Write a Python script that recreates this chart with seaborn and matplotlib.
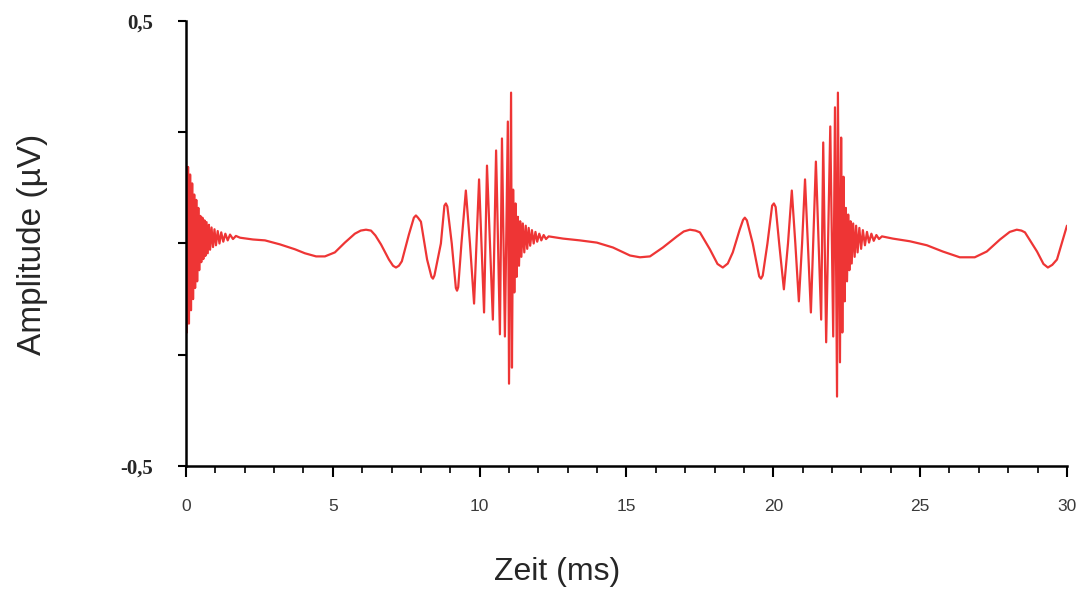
import numpy as np
import pandas as pd
import seaborn as sns
import matplotlib.pyplot as plt
from matplotlib.ticker import MultipleLocator

# readings: time in ms, amplitude in µV
onset_t = [0.00, 0.03, 0.07, 0.10, 0.14, 0.17, 0.21, 0.24, 0.28, 0.31, 0.35, 0.38, 0.42, 0.45,
           0.49, 0.52, 0.56, 0.59, 0.63, 0.66, 0.70, 0.74, 0.78, 0.82, 0.87, 0.92, 0.97, 1.02,
           1.08, 1.14, 1.20, 1.27, 1.34, 1.42, 1.50, 1.60, 1.70]
onset_uv = [0.184, -0.200, 0.172, -0.180, 0.155, -0.150, 0.135, -0.125, 0.110, -0.100, 0.098,
            -0.085, 0.080, -0.060, 0.062, -0.042, 0.058, -0.035, 0.052, -0.028, 0.048, -0.022,
            0.042, -0.014, 0.036, -0.008, 0.032, -0.004, 0.028, 0.000, 0.025, 0.004, 0.022,
            0.007, 0.020, 0.010, 0.017]

wave1_t = [1.84, 2.28, 2.69, 3.20, 3.71, 4.05, 4.43, 4.73, 5.07, 5.41, 5.75, 5.95, 6.13, 6.30,
           6.45, 6.64, 6.91, 7.05, 7.15, 7.25, 7.35, 7.59]
wave1_uv = [0.013, 0.009, 0.007, -0.002, -0.013, -0.022, -0.029, -0.029, -0.020, 0.002, 0.022,
            0.029, 0.031, 0.029, 0.018, -0.002, -0.036, -0.050, -0.054, -0.050, -0.040, 0.020]

burst1_t = [7.76, 7.83, 7.90, 8.00, 8.21, 8.36, 8.41, 8.46, 8.68, 8.80, 8.85, 8.90, 9.05, 9.19,
            9.23, 9.27, 9.38, 9.53, 9.67, 9.81, 9.98, 10.15, 10.25, 10.45, 10.56, 10.69, 10.76,
            10.86, 10.96, 11.00, 11.07, 11.10]
burst1_uv = [0.058, 0.063, 0.058, 0.049, -0.036, -0.075, -0.079, -0.072, 0.000, 0.085, 0.090,
             0.083, 0.000, -0.100, -0.106, -0.098, 0.000, 0.119, 0.000, -0.135, 0.144, -0.155,
             0.175, -0.171, 0.209, -0.204, 0.236, -0.209, 0.274, -0.315, 0.339, -0.279]

ring1_t = [11.14, 11.18, 11.22, 11.26, 11.30, 11.34, 11.38, 11.42, 11.47, 11.52, 11.57, 11.62,
           11.67, 11.72, 11.78, 11.84, 11.90, 11.96, 12.03, 12.10, 12.18, 12.26, 12.35]
ring1_uv = [0.121, -0.110, 0.090, -0.075, 0.060, -0.050, 0.050, -0.030, 0.045, -0.020, 0.040,
            -0.012, 0.035, -0.005, 0.030, 0.000, 0.026, 0.004, 0.022, 0.007, 0.019, 0.010, 0.016]

wave2_t = [12.84, 13.41, 13.99, 14.54, 15.12, 15.46, 15.80, 16.24, 16.72, 16.95, 17.16, 17.35,
           17.50, 17.84, 18.10, 18.28, 18.45, 18.62, 18.85]
wave2_uv = [0.011, 0.007, 0.002, -0.009, -0.027, -0.031, -0.029, -0.009, 0.016, 0.027, 0.031,
            0.029, 0.025, -0.013, -0.046, -0.054, -0.045, -0.020, 0.030]

burst2_t = [18.97, 19.03, 19.10, 19.30, 19.52, 19.58, 19.64, 19.80, 19.96, 20.02, 20.08, 20.20,
            20.36, 20.50, 20.63, 20.75, 20.87, 20.98, 21.08, 21.28, 21.45, 21.63, 21.70, 21.80,
            21.94, 22.04, 22.10, 22.17, 22.20, 22.27]
burst2_uv = [0.053, 0.058, 0.052, 0.000, -0.074, -0.079, -0.072, 0.000, 0.085, 0.090, 0.082,
             0.000, -0.103, 0.000, 0.119, 0.000, -0.130, 0.000, 0.144, -0.155, 0.184, -0.171,
             0.227, -0.222, 0.263, -0.209, 0.306, -0.344, 0.339, -0.267]

ring2_t = [22.31, 22.35, 22.39, 22.43, 22.47, 22.51, 22.55, 22.59, 22.63, 22.67, 22.72, 22.77,
           22.82, 22.87, 22.93, 22.99, 23.05, 23.12, 23.19, 23.26, 23.34, 23.42, 23.51, 23.60,
           23.70]
ring2_uv = [0.238, -0.200, 0.150, -0.130, 0.080, -0.085, 0.065, -0.060, 0.050, -0.045, 0.045,
            -0.030, 0.040, -0.020, 0.035, -0.012, 0.030, -0.004, 0.026, 0.002, 0.022, 0.006,
            0.019, 0.010, 0.016]

wave3_t = [24.07, 24.65, 25.23, 25.77, 26.35, 26.86, 27.27, 27.72, 28.05, 28.29, 28.45, 28.57,
           28.98, 29.20, 29.35, 29.50, 29.66, 30.00]
wave3_uv = [0.011, 0.005, -0.004, -0.018, -0.031, -0.031, -0.018, 0.009, 0.026, 0.031, 0.029,
            0.025, -0.018, -0.046, -0.054, -0.048, -0.036, 0.040]

y_ticks = [-0.5, -0.25, 0, 0.25, 0.5]
y_ticklabels = ['-0,5', '', '', '', '0,5']

df = pd.DataFrame({
    'Zeit': np.concatenate([onset_t, wave1_t, burst1_t, ring1_t, wave2_t, burst2_t, ring2_t, wave3_t]),
    'Amplitude': np.concatenate([onset_uv, wave1_uv, burst1_uv, ring1_uv, wave2_uv, burst2_uv,
                                 ring2_uv, wave3_uv]),
})

sns.set_style('ticks')
plt.rcParams['font.family'] = ['Liberation Sans', 'DejaVu Sans']

fig = plt.figure(figsize=(10.82, 5.91), dpi=100)
ax = fig.add_axes([0.1719, 0.2115, 0.8142, 0.7530])
sns.lineplot(data=df, x='Zeit', y='Amplitude', ax=ax, color='#ee3535', lw=1.6,
             estimator=None, sort=False)

ax.set_xlim(0, 30)
ax.set_ylim(-0.5, 0.5)
sns.despine(ax=ax)
for side in ['left', 'bottom']:
    ax.spines[side].set_linewidth(1.8)
    ax.spines[side].set_color('black')

ax.xaxis.set_major_locator(MultipleLocator(5))
ax.xaxis.set_minor_locator(MultipleLocator(1))
ax.set_yticks(y_ticks)
ax.set_yticklabels(y_ticklabels)

ax.tick_params(axis='x', which='major', direction='out', length=8, width=1.5, pad=16,
               labelsize=12.5, labelcolor='#3a3a3a', color='black')
ax.tick_params(axis='x', which='minor', direction='out', length=5, width=1.2, color='black')
ax.tick_params(axis='y', direction='out', length=6, width=1.5, pad=18, color='black')
for lbl in ax.get_xticklabels():
    lbl.set_fontfamily(['Liberation Sans Narrow', 'Liberation Sans'])
for lbl in ax.get_yticklabels():
    lbl.set_fontfamily(['Liberation Serif', 'DejaVu Serif'])
    lbl.set_fontweight('bold')
    lbl.set_fontsize(15)

ax.set_xlabel('Zeit (ms)', fontsize=23)
ax.set_ylabel('Amplitude (µV)', fontsize=24)
ax.xaxis.set_label_coords(0.421, -0.205)
ax.yaxis.set_label_coords(-0.157, 0.497)

fig.savefig('out.png', dpi=100)
